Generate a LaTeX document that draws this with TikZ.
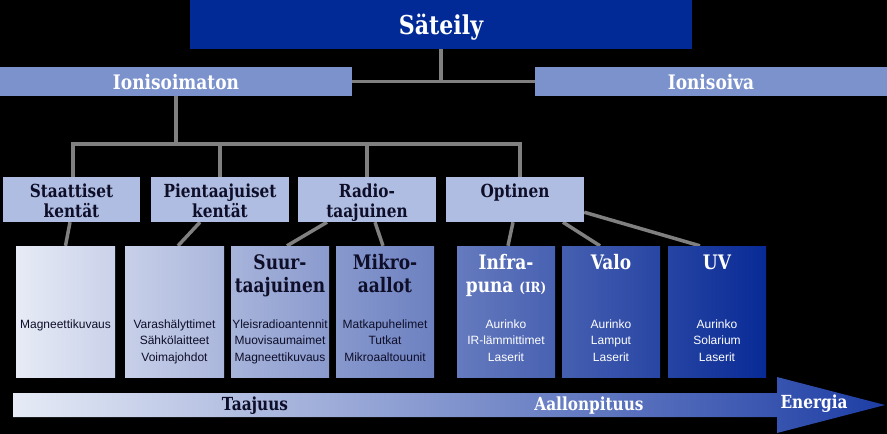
\documentclass[tikz,border=0pt]{standalone}
\usepackage{fontspec}
\setmainfont{Liberation Sans}
\newfontfamily\tf{DejaVu Serif}[FakeStretch=0.85]
\pgfdeclarelayer{bg}
\pgfsetlayers{bg,main}
\definecolor{satc}{RGB}{2,42,150}
\definecolor{ionc}{RGB}{123,146,205}
\definecolor{rowc}{RGB}{176,189,226}
\definecolor{gL}{RGB}{236,239,248}
\definecolor{gR}{RGB}{8,42,150}
\definecolor{arrL}{RGB}{230,235,246}
\definecolor{arrR}{RGB}{30,62,165}
\definecolor{linec}{RGB}{128,128,128}
\definecolor{navytxt}{RGB}{14,14,40}
\tikzset{
  box/.style={rectangle, inner sep=0pt, draw=none},
  lbox/.style={box, minimum width=138pt, minimum height=45pt, fill=rowc},
  gbox/.style={box, minimum width=99pt, minimum height=131pt},
  conn/.style={draw=linec, line width=3.5pt},
  ttl/.style={anchor=base, inner sep=0pt, align=center},
  lvl1/.style={ttl, text=white, font=\tf\bfseries\fontsize{20}{22}\selectfont},
  lvl2/.style={ttl, text=navytxt, font=\tf\bfseries\fontsize{18}{20}\selectfont},
  lvl3/.style={ttl, text=navytxt, font=\tf\bfseries\fontsize{20}{23}\selectfont},
  body/.style={ttl, text=navytxt, font=\fontsize{12}{16.5}\selectfont},
}
\begin{document}
\begin{tikzpicture}[x=1pt,y=-1pt]
\useasboundingbox (0,0) rectangle (887,434);
% top level
\node[box, fill=satc, minimum width=502pt, minimum height=49pt] (sat) at (441,24.5) {};
\node[box, fill=ionc, minimum width=352pt, minimum height=29pt] (ion) at (176,81.5) {};
\node[box, fill=ionc, minimum width=352pt, minimum height=29pt] (ionv) at (711,81.5) {};
% second row
\node[lbox, minimum width=137pt] (sta) at (71.5,199.5) {};
\node[lbox] (pie) at (220,199.5) {};
\node[lbox] (rad) at (367,199.5) {};
\node[lbox] (opt) at (515,199.5) {};
% third row
\node[gbox, left color=gR!2!gL, right color=gR!15!gL] (b1) at (65.5,311.5) {};
\node[gbox, left color=gR!16!gL, right color=gR!29!gL] (b2) at (174.5,311.5) {};
\node[gbox, minimum width=98pt, left color=gR!30!gL, right color=gR!43!gL] (b3) at (280,311.5) {};
\node[gbox, minimum width=98pt, left color=gR!44!gL, right color=gR!56!gL] (b4) at (385,311.5) {};
\node[gbox, minimum width=98pt, left color=gR!59!gL, right color=gR!72!gL] (b5) at (506,311.5) {};
\node[gbox, minimum width=98pt, left color=gR!73!gL, right color=gR!86!gL] (b6) at (611,311.5) {};
\node[gbox, minimum width=98pt, left color=gR!87!gL, right color=gR!100!gL] (b7) at (717,311.5) {};
% arrow
\fill[left color=arrL, right color=arrR] (13,393) -- (777,393) -- (777,377) -- (885,405) -- (777,433) -- (777,417) -- (13,417) -- cycle;
% texts (anchor = baseline of the last line)
\node[ttl, text=white, font=\tf\bfseries\fontsize{26}{30}\selectfont] (tsat) at (441,34) {Säteily};
\node[lvl1] (tion) at (176,89) {Ionisoimaton};
\node[lvl1] (tionv) at (711,89) {Ionisoiva};
\node[lvl2] (tsta) at (71.5,217) {Staattiset\\kentät};
\node[lvl2] (tpie) at (220,217) {Pientaajuiset\\kentät};
\node[lvl2] (trad) at (367,217) {Radio-\\taajuinen};
\node[lvl2] (topt) at (515,197) {Optinen};
\node[lvl3] (tsuur) at (280,292) {Suur-\\taajuinen};
\node[lvl3] (tmik) at (385,292) {Mikro-\\aallot};
\node[lvl3, text=white] (tinf) at (506,292) {Infra-\\puna {\fontsize{14}{16}\selectfont(IR)}};
\node[lvl3, text=white] (tval) at (611,269) {Valo};
\node[lvl3, text=white] (tuv) at (717,269) {UV};
\node[body] (d1) at (65.5,328) {Magneettikuvaus};
\node[body] (d2) at (174.5,361) {Varashälyttimet\\Sähkölaitteet\\Voimajohdot};
\node[body] (d3) at (280,361) {Yleisradioantennit\\Muovisaumaimet\\Magneettikuvaus};
\node[body] (d4) at (385,361) {Matkapuhelimet\\Tutkat\\Mikroaaltouunit};
\node[body, text=white] (d5) at (506,361) {Aurinko\\IR-lämmittimet\\Laserit};
\node[body, text=white] (d6) at (611,361) {Aurinko\\Lamput\\Laserit};
\node[body, text=white] (d7) at (717,361) {Aurinko\\Solarium\\Laserit};
\node[lvl2] (taaj) at (255,410) {Taajuus};
\node[lvl2, text=white] (aal) at (589,410) {Aallonpituus};
\node[lvl2, text=white] (ene) at (814,408) {Energia};
\coordinate (busL) at (73,144);
\coordinate (busR) at (520,144);
\begin{pgfonlayer}{bg}
\fill[black] (0,0) rectangle (887,434);
\draw[conn] (sat.south) -- (sat.south |- ion.east);
\draw[conn] (ion.east) -- (ionv.west);
\draw[conn] (ion.south) -- (ion.south |- busL);
\draw[conn] (busL |- sta.north) -- (busL) -- (busR) -- (busR |- opt.north);
\draw[conn] (pie.north) -- (pie.north |- busL);
\draw[conn] (rad.north) -- (rad.north |- busL);
\draw[conn] ([xshift=-1.5pt]sta.south) -- (b1.north);
\draw[conn] ([xshift=-20pt]pie.south) -- ([xshift=3.5pt]b2.north);
\draw[conn] ([xshift=-40pt]rad.south) -- ([xshift=7pt]b3.north);
\draw[conn] ([xshift=8pt]rad.south) -- ([xshift=-2pt]b4.north);
\draw[conn] ([xshift=-2pt]opt.south) -- ([xshift=2pt]b5.north);
\draw[conn] ([xshift=48pt]opt.south) -- ([xshift=-11pt]b6.north);
\draw[conn] ([yshift=10pt]opt.south east) -- ([xshift=-17pt]b7.north);
\end{pgfonlayer}
\end{tikzpicture}
\end{document}
